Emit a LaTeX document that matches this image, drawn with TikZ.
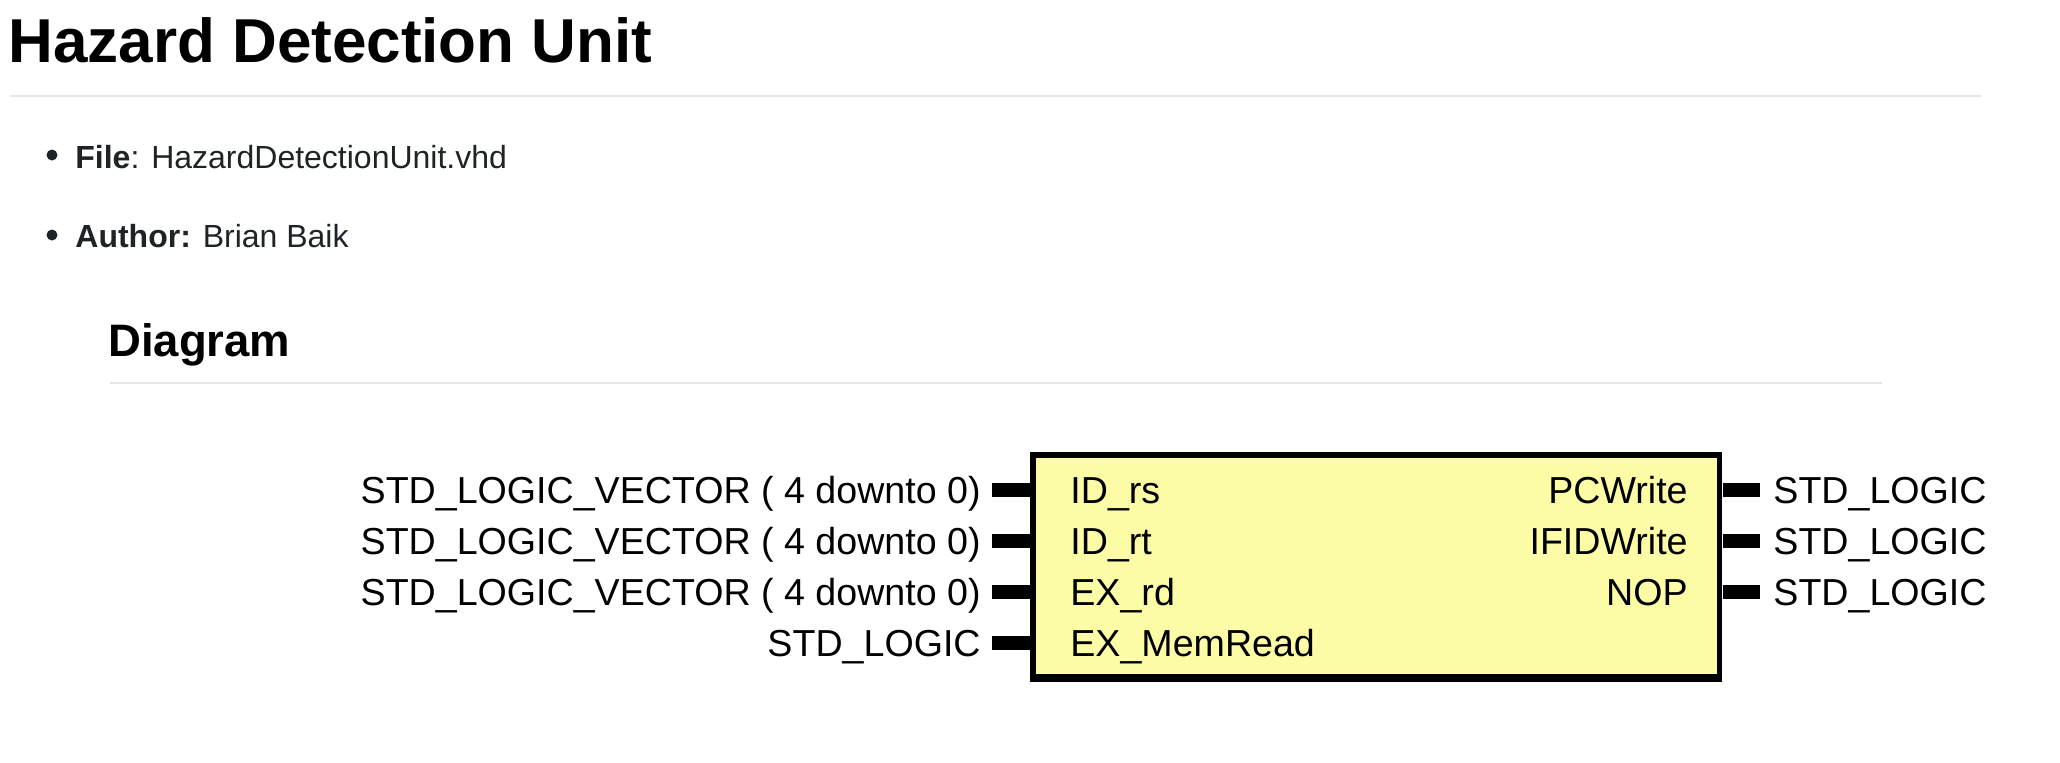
\documentclass[tikz,border=0pt]{standalone}
\usepackage{fontspec}
\setmainfont{Liberation Sans}
\definecolor{boxfill}{RGB}{252,252,166}
\definecolor{rulegray}{RGB}{228,230,234}
\definecolor{bodytext}{RGB}{31,35,40}
\begin{document}
\begin{tikzpicture}[x=0.5pt,y=-0.5pt,
  sig/.style={font=\fontsize{18.8}{22}\selectfont, inner sep=0pt, text=black},
  pinline/.style={line width=7pt},
  hrule/.style={draw=rulegray, line width=1.25pt},
  body/.style={font=\fontsize{16}{19}\selectfont, inner sep=0pt, text=bodytext, anchor=base west},
  bul/.style={fill=bodytext, draw=none}]
\useasboundingbox (0,0) rectangle (2060,762);
% headings
\node[font=\bfseries\fontsize{31}{36}\selectfont, inner sep=0pt, anchor=base west] (title) at (8,62) {Hazard Detection Unit};
\draw[hrule] (10,96) -- (1981,96);
\fill[bul] (52,155) circle (5.5);
\node[body] (file) at (75,168) {\textbf{File}: HazardDetectionUnit.vhd};
\fill[bul] (52,235) circle (5.5);
\node[body] (author) at (75,247) {\textbf{Author:} Brian Baik};
\node[font=\bfseries\fontsize{22.75}{27}\selectfont, inner sep=0pt, anchor=base west] (diag) at (108,356) {Diagram};
\draw[hrule] (110,383) -- (1882,383);
% box: black frame (thicker at the bottom) and yellow body
\node[fill=black, minimum width=346pt, minimum height=115pt, inner sep=0pt, anchor=north west] (box) at (1030,452) {};
\fill[boxfill] (1036,458) rectangle (1717,674);
% left pins
\foreach \i/\y/\t/\n in {1/490/{STD\_LOGIC\_VECTOR ( 4 downto 0)}/{ID\_rs},
                          2/541/{STD\_LOGIC\_VECTOR ( 4 downto 0)}/{ID\_rt},
                          3/592/{STD\_LOGIC\_VECTOR ( 4 downto 0)}/{EX\_rd},
                          4/643/{STD\_LOGIC}/{EX\_MemRead}}{
  \coordinate (pl\i) at (992,\y);
  \draw[pinline] (pl\i) -- (pl\i -| box.west);
  \node[sig, anchor=base east] (tl\i) at (981,\y+13.4) {\t};
  \node[sig, anchor=base west] (nl\i) at (1070,\y+13.4) {\n};
}
% right pins
\foreach \i/\y/\n in {1/490/{PCWrite}, 2/541/{IFIDWrite}, 3/592/{NOP}}{
  \coordinate (pr\i) at (1760,\y);
  \draw[pinline] (pr\i -| box.east) -- (pr\i);
  \node[sig, anchor=base west] (tr\i) at (1773,\y+13.4) {STD\_LOGIC};
  \node[sig, anchor=base east] (nr\i) at (1688,\y+13.4) {\n};
}
\end{tikzpicture}
\end{document}
